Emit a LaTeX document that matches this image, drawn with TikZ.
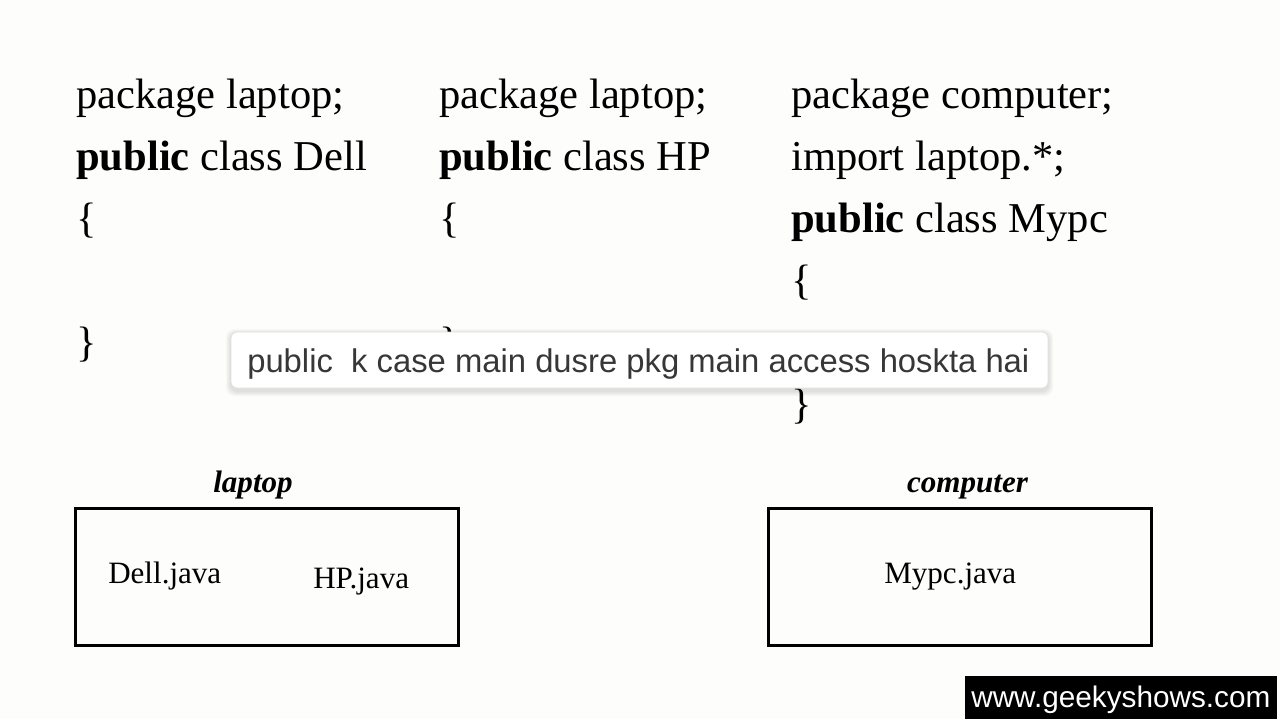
\documentclass[tikz,border=0pt]{standalone}
\usepackage{fontspec}
\setmainfont{Liberation Serif}
\newfontfamily\subfont{Liberation Sans}
\definecolor{bg}{RGB}{253,253,251}
\definecolor{subgray}{RGB}{55,55,55}
\tikzset{
  codetext/.style={anchor=base west, inner sep=0pt, font=\fontsize{31.9}{38}\selectfont},
  pkglabel/.style={anchor=base, inner sep=0pt, font=\fontsize{23.3}{28}\selectfont\bfseries\itshape},
  filelabel/.style={anchor=base west, inner sep=0pt, font=\fontsize{23.3}{28}\selectfont},
  pkgbox/.style={draw=black, line width=2.25pt, minimum width=287.25pt, minimum height=102.75pt, inner sep=0pt},
  subbox/.style={draw=black!12, line width=0.6pt, fill=white, rounded corners=4.5pt, minimum width=612.75pt, minimum height=42pt, inner sep=0pt},
  subtext/.style={anchor=base west, inner sep=0pt, text=subgray, font=\subfont\fontsize{24.6}{30}\selectfont},
  wmbox/.style={fill=black, minimum width=234pt, minimum height=32.25pt, inner sep=0pt},
  wmtext/.style={anchor=base west, inner sep=0pt, text=white, font=\subfont\fontsize{22.3}{27}\selectfont}
}
\begin{document}
\begin{tikzpicture}[x=0.75pt,y=-0.75pt]
\fill[bg] (0,0) rectangle (1280,719);
\useasboundingbox (0,0) rectangle (1280,719);

% column 1
\node[codetext] (c1a) at (76,108) {package laptop;};
\node[codetext] (c1b) at (76,170) {\textbf{public} class Dell};
\node[codetext] (c1c) at (76,232) {\{};
\node[codetext] (c1d) at (76,356) {\}};

% column 2
\node[codetext] (c2a) at (439,108) {package laptop;};
\node[codetext] (c2b) at (439,170) {\textbf{public} class HP};
\node[codetext] (c2c) at (439,232) {\{};
\node[codetext] (c2d) at (439,356) {\}};

% column 3
\node[codetext] (c3a) at (791,108) {package computer;};
\node[codetext] (c3b) at (791,170) {import laptop.*;};
\node[codetext] (c3c) at (791,232) {\textbf{public} class Mypc};
\node[codetext] (c3d) at (791,294) {\{};
\node[codetext] (c3e) at (791,418) {\}};

% subtitle with soft shadow
\foreach \i in {1,...,5}{
  \fill[black, opacity=0.025, rounded corners=6pt] (231-\i,334-\i) rectangle (1048+\i,391+\i);
}
\node[subbox] (sub) at (639.5,360) {};
\node[subtext] (subt) at (247,372) {public\ \ k case main dusre pkg main access hoskta hai};

% package boxes
\node[pkglabel] (lap) at (253,492) {laptop};
\node[pkgbox] (lapbox) at (266.5,577) {};
\node[filelabel] (dell) at (108,583) {Dell.java};
\node[filelabel] (hp) at (313,588) {HP.java};

\node[pkglabel] (comp) at (967.5,492) {computer};
\node[pkgbox] (compbox) at (959.5,577) {};
\node[filelabel] (mypc) at (884,583) {Mypc.java};

% watermark
\node[wmbox] (wm) at (1121,697.5) {};
\node[wmtext] (wmt) at (971,707) {www.geekyshows.com};
\end{tikzpicture}
\end{document}
